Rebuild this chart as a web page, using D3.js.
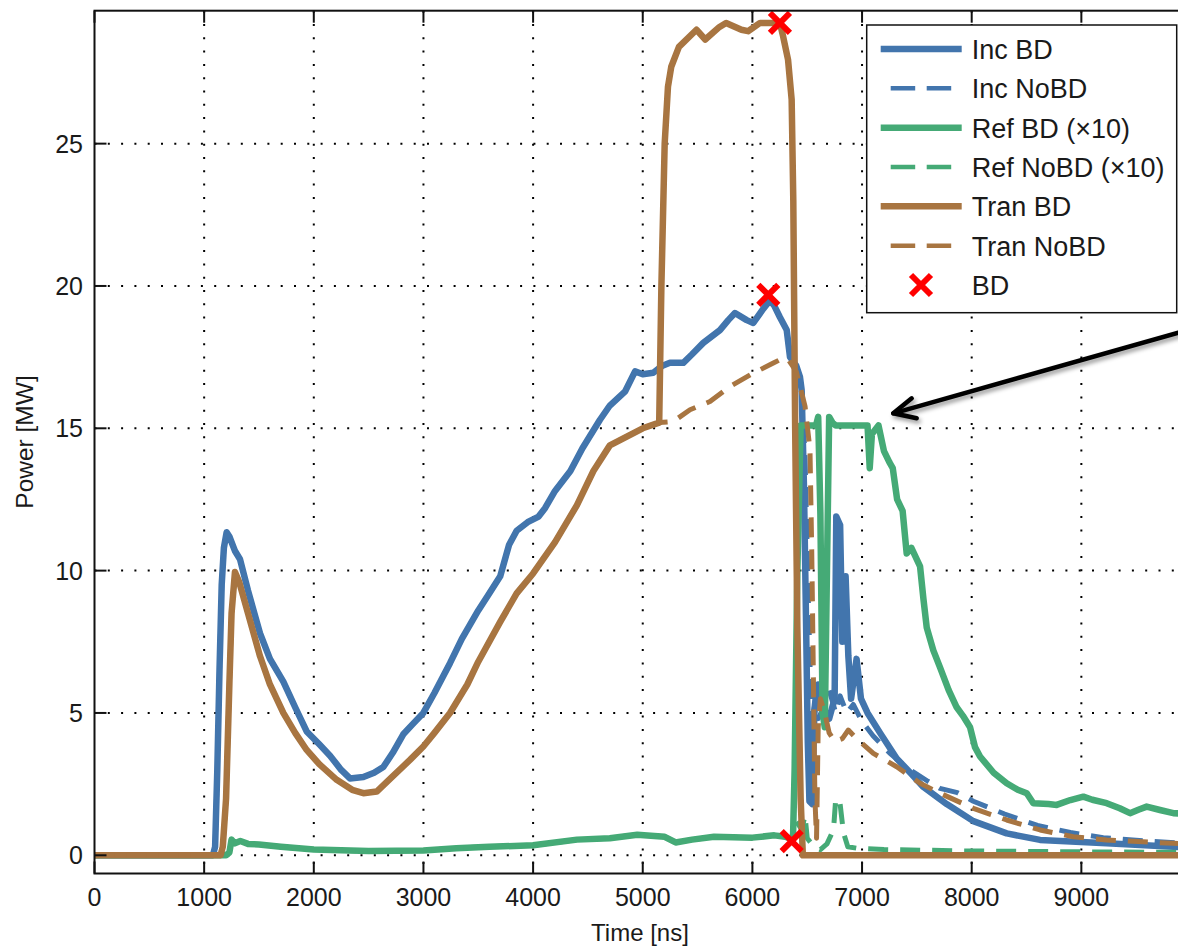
<!DOCTYPE html>
<meta charset="utf-8">
<html>
<head>
<style>
  body { margin: 0; background: #fff; }
  text { font-family: "Liberation Sans", Arial, Helvetica, sans-serif; fill: #1a1a1a; }
</style>
</head>
<body>
<div id="power_plot"></div>
<script src="https://d3js.org/d3.v7.min.js"></script>
<script>

// tick values
var xTicks = [0, 1000, 2000, 3000, 4000, 5000, 6000, 7000, 8000, 9000];
var yTicks = [0, 5, 10, 15, 20, 25];

// [time ns, power MW] - shared part before the BD / NoBD traces split
var incPre = [[0,0],[1080,0],[1100,0.3],[1120,3],[1140,6.5],[1160,9.5],[1180,10.8],[1205,11.35],[1230,11.2],[1280,10.7],[1327,10.4],[1400,9.3],[1509,7.8],[1600,6.9],[1722,6.1],[1830,5.2],[1935,4.35],[2050,3.9],[2148,3.5],[2250,3.0],[2330,2.7],[2452,2.75],[2550,2.9],[2634,3.1],[2720,3.6],[2816,4.25],[2900,4.6],[2999,5.0],[3100,5.7],[3181,6.3],[3242,6.75],[3350,7.6],[3500,8.6],[3600,9.2],[3700,9.8],[3780,10.9],[3850,11.4],[3950,11.7],[4050,11.9],[4110,12.2],[4200,12.8],[4340,13.5],[4450,14.3],[4610,15.3],[4700,15.8],[4840,16.3],[4930,17.0],[5000,16.9],[5096,16.95],[5180,17.2],[5248,17.3],[5370,17.3],[5450,17.6],[5552,18.0],[5704,18.45],[5780,18.8],[5841,19.05],[5948,18.8],[6008,18.7],[6100,19.2],[6161,19.5],[6200,19.3],[6251,18.9],[6313,18.45],[6343,17.5],[6400,17.2],[6434,16.8],[6449,16.35]];
var incBDTail = [[6470,13],[6490,8],[6505,4],[6520,1.9],[6545,1.8],[6565,5],[6600,6.0],[6640,5.2],[6700,4.8],[6750,5.5],[6765,11.9],[6800,11.6],[6820,7.5],[6850,9.8],[6875,7],[6900,5.5],[6950,6.9],[6990,5.5],[7050,5.0],[7164,4.3],[7316,3.4],[7440,2.9],[7559,2.4],[7772,1.8],[8015,1.2],[8319,0.77],[8623,0.54],[9231,0.42],[9839,0.3],[10000,0.28]];
var incNoBDTail = [[6480,14],[6510,9],[6540,4.5],[6570,5.5],[6600,4.8],[6650,5.2],[6700,5.8],[6760,5.0],[6800,5.6],[6860,5.0],[6920,5.3],[7000,4.7],[7100,4.2],[7250,3.6],[7400,3.1],[7600,2.6],[7710,2.35],[7870,2.2],[8015,1.9],[8300,1.45],[8600,1.05],[8900,0.8],[9200,0.62],[9600,0.5],[10000,0.4]];

// reflected power, already x10
var refPre = [[0,0],[1200,0],[1230,0.1],[1250,0.55],[1280,0.42],[1330,0.5],[1400,0.4],[1500,0.38],[1700,0.3],[2000,0.2],[2500,0.15],[3000,0.17],[3300,0.25],[3600,0.3],[4000,0.35],[4400,0.55],[4700,0.6],[4950,0.72],[5200,0.65],[5300,0.45],[5450,0.55],[5650,0.65],[6000,0.62],[6200,0.7],[6300,0.65],[6370,0.55]];
var refBDTail = [[6385,3],[6410,10],[6440,15.1],[6580,15.1],[6600,15.4],[6620,12],[6640,5],[6660,4.5],[6680,10],[6700,15.4],[6730,15.2],[6760,15.1],[7050,15.1],[7070,13.6],[7090,14.8],[7150,15.1],[7200,14.2],[7250,13.8],[7280,13.6],[7320,12.5],[7370,12.1],[7407,10.6],[7450,10.8],[7529,10.15],[7560,9],[7590,8.0],[7650,7.2],[7711,6.6],[7790,5.8],[7863,5.2],[7920,4.9],[7985,4.5],[8030,3.8],[8076,3.47],[8200,2.9],[8319,2.53],[8420,2.3],[8502,2.18],[8562,1.83],[8700,1.8],[8775,1.77],[8900,1.94],[9018,2.06],[9100,1.95],[9231,1.83],[9350,1.65],[9444,1.48],[9520,1.6],[9596,1.71],[9717,1.59],[9839,1.48],[10000,1.45]];
var refNoBDTail = [[6400,1.2],[6450,0.9],[6480,1.4],[6500,0.6],[6560,0.3],[6620,0.2],[6680,0.4],[6740,0.9],[6760,2.0],[6800,1.8],[6830,0.8],[6870,0.3],[6950,0.25],[7200,0.2],[8000,0.15],[9000,0.12],[10000,0.1]];

var tranPre = [[0,0],[1150,0],[1170,0.3],[1200,2],[1230,6],[1250,8.5],[1281,9.95],[1320,9.6],[1400,8.5],[1509,7.0],[1600,6.0],[1722,5.0],[1830,4.3],[1935,3.7],[2050,3.2],[2209,2.65],[2350,2.3],[2452,2.18],[2574,2.24],[2700,2.7],[2877,3.35],[2999,3.82],[3100,4.3],[3242,5.0],[3400,6.0],[3500,6.8],[3700,8.2],[3850,9.2],[4000,9.9],[4200,11.0],[4400,12.3],[4550,13.5],[4700,14.4],[4850,14.7],[5000,15.0],[5150,15.2]];
var tranBDTail = [[5170,20],[5200,25],[5230,27],[5260,27.7],[5330,28.4],[5490,29.0],[5570,28.66],[5700,29.1],[5760,29.24],[5900,29.0],[5960,28.95],[6070,29.24],[6251,29.24],[6280,28.77],[6325,27.95],[6358,26.55],[6373,23],[6390,15],[6410,8],[6440,2],[6460,0],[10000,0]];
var tranNoBDTail = [[5279,15.24],[5431,15.65],[5613,15.94],[5796,16.47],[6009,16.94],[6191,17.29],[6282,17.47],[6327,17.41],[6400,17.0],[6480,15.77],[6525,14.25],[6541,10.7],[6555,6.6],[6570,2],[6585,0.6],[6600,4.5],[6620,5.5],[6660,5.0],[6700,4.3],[6750,4.0],[6820,4.1],[6875,4.4],[6950,4.1],[7103,3.58],[7316,3.11],[7529,2.53],[7711,2.18],[8015,1.65],[8319,1.24],[8623,0.89],[8927,0.65],[9231,0.54],[9839,0.42],[10000,0.4]];

// breakdown points
var bdPoints = [[6145,19.69],[6251,29.24],[6358,0.5]];

var blue = "#4275ad", green = "#45aa76", brown = "#a87541";

var series = [
  {name: "Inc BD", data: incPre.concat(incBDTail), color: blue, dash: null},
  {name: "Inc NoBD", data: incPre.concat(incNoBDTail), color: blue, dash: "20,12"},
  {name: "Ref BD (\u00d710)", data: refPre.concat(refBDTail), color: green, dash: null},
  {name: "Ref NoBD (\u00d710)", data: refPre.concat(refNoBDTail), color: green, dash: "20,12"},
  {name: "Tran BD", data: tranPre.concat(tranBDTail), color: brown, dash: null},
  {name: "Tran NoBD", data: tranPre.concat(tranNoBDTail), color: brown, dash: "20,12"}
];

var W = 1178, H = 946;
var pLeft = 94.5, pRight = 1191, pTop = 10.7, pBottom = 873.5;

var svg = d3.select("#power_plot")
  .append("svg")
    .attr("width", W)
    .attr("height", H);

var x = d3.scaleLinear().domain([0, 10000]).range([pLeft, pRight]);
var y = d3.scaleLinear().domain([-0.64, 29.67]).range([pBottom, pTop]);

// dotted grid
svg.append("g").selectAll("line").data(xTicks.filter(function(d) { return d > 0; }))
  .enter().append("line")
    .attr("x1", function(d) { return x(d); }).attr("x2", function(d) { return x(d); })
    .attr("y1", pTop).attr("y2", pBottom)
    .attr("stroke", "#000").attr("stroke-width", 2)
    .attr("stroke-dasharray", "2,11.3");
svg.append("g").selectAll("line").data(yTicks)
  .enter().append("line")
    .attr("x1", pLeft).attr("x2", pRight)
    .attr("y1", function(d) { return y(d); }).attr("y2", function(d) { return y(d); })
    .attr("stroke", "#000").attr("stroke-width", 2)
    .attr("stroke-dasharray", "2,11.3");

svg.append("clipPath").attr("id", "plotclip")
  .append("rect").attr("x", pLeft).attr("y", pTop)
  .attr("width", pRight - pLeft).attr("height", pBottom - pTop);

var line = d3.line()
  .x(function(d) { return x(d[0]); })
  .y(function(d) { return y(d[1]); });

var traces = svg.append("g").attr("clip-path", "url(#plotclip)");
series.forEach(function(s) {
  traces.append("path")
    .datum(s.data)
    .attr("d", line)
    .attr("fill", "none")
    .attr("stroke", s.color)
    .attr("stroke-width", s.dash ? 5 : 6.5)
    .attr("stroke-linejoin", "round")
    .attr("stroke-dasharray", s.dash);
});

function cross(g, cx, cy) {
  var r = 10;
  g.append("path")
    .attr("d", "M" + (cx - r) + "," + (cy - r) + "L" + (cx + r) + "," + (cy + r) +
               "M" + (cx - r) + "," + (cy + r) + "L" + (cx + r) + "," + (cy - r))
    .attr("stroke", "#ff0000").attr("stroke-width", 6).attr("fill", "none");
}
bdPoints.forEach(function(p) { cross(svg, x(p[0]), y(p[1])); });

// axes box with inward ticks
var axes = svg.append("g");
axes.append("rect")
  .attr("x", pLeft).attr("y", pTop)
  .attr("width", pRight - pLeft).attr("height", pBottom - pTop)
  .attr("fill", "none").attr("stroke", "#111").attr("stroke-width", 2);
xTicks.forEach(function(t) {
  axes.append("line").attr("x1", x(t)).attr("x2", x(t)).attr("y1", pBottom).attr("y2", pBottom - 12)
    .attr("stroke", "#111").attr("stroke-width", 2);
  axes.append("line").attr("x1", x(t)).attr("x2", x(t)).attr("y1", pTop).attr("y2", pTop + 12)
    .attr("stroke", "#111").attr("stroke-width", 2);
  axes.append("text").attr("x", x(t)).attr("y", 906)
    .attr("text-anchor", "middle").attr("font-size", "25px").text(t);
});
yTicks.forEach(function(t) {
  axes.append("line").attr("x1", pLeft).attr("x2", pLeft + 12).attr("y1", y(t)).attr("y2", y(t))
    .attr("stroke", "#111").attr("stroke-width", 2);
  axes.append("text").attr("x", 83).attr("y", y(t) + 9)
    .attr("text-anchor", "end").attr("font-size", "25px").text(t);
});

axes.append("text")
  .attr("x", 640).attr("y", 941)
  .attr("text-anchor", "middle").attr("font-size", "24px")
  .text("Time [ns]");
axes.append("text")
  .attr("transform", "translate(33,442) rotate(-90)")
  .attr("text-anchor", "middle").attr("font-size", "24.5px")
  .text("Power [MW]");

// legend
var lg = svg.append("g");
lg.append("rect")
  .attr("x", 866.7).attr("y", 25).attr("width", 310).attr("height", 287.7)
  .attr("fill", "#fff").attr("stroke", "#111").attr("stroke-width", 1.5);
var rowY = d3.scaleLinear().domain([0, 6]).range([49, 285]);
series.forEach(function(s, i) {
  var ly = rowY(i);
  lg.append("line")
    .attr("x1", s.dash ? 890.7 : 880.7).attr("x2", 961.7)
    .attr("y1", ly).attr("y2", ly)
    .attr("stroke", s.color)
    .attr("stroke-width", s.dash ? 4.5 : 6.5)
    .attr("stroke-dasharray", s.dash ? "24.5,11.5" : null);
  lg.append("text").attr("x", 971.7).attr("y", ly + 10)
    .attr("font-size", "27px").text(s.name);
});
cross(lg, 921, rowY(6));
lg.append("text").attr("x", 971.7).attr("y", rowY(6) + 10)
  .attr("font-size", "27px").text("BD");

// hand drawn arrow pointing at the reflected plateau
var defs = svg.append("defs");
var f = defs.append("filter").attr("id", "shadow")
  .attr("x", "-10%").attr("y", "-50%").attr("width", "120%").attr("height", "200%");
f.append("feDropShadow").attr("dx", 2).attr("dy", 3).attr("stdDeviation", 2)
  .attr("flood-color", "#000").attr("flood-opacity", 0.4);
var arrow = svg.append("g").attr("filter", "url(#shadow)")
  .attr("stroke", "#000").attr("stroke-width", 4.5).attr("fill", "none")
  .attr("stroke-linecap", "round").attr("stroke-linejoin", "round");
arrow.append("path").attr("d", "M1195,328L893.3,413.3");
arrow.append("path").attr("d", "M911.7,398.3L893.3,413.3L916.7,418.3");

</script>
</body>
</html>
